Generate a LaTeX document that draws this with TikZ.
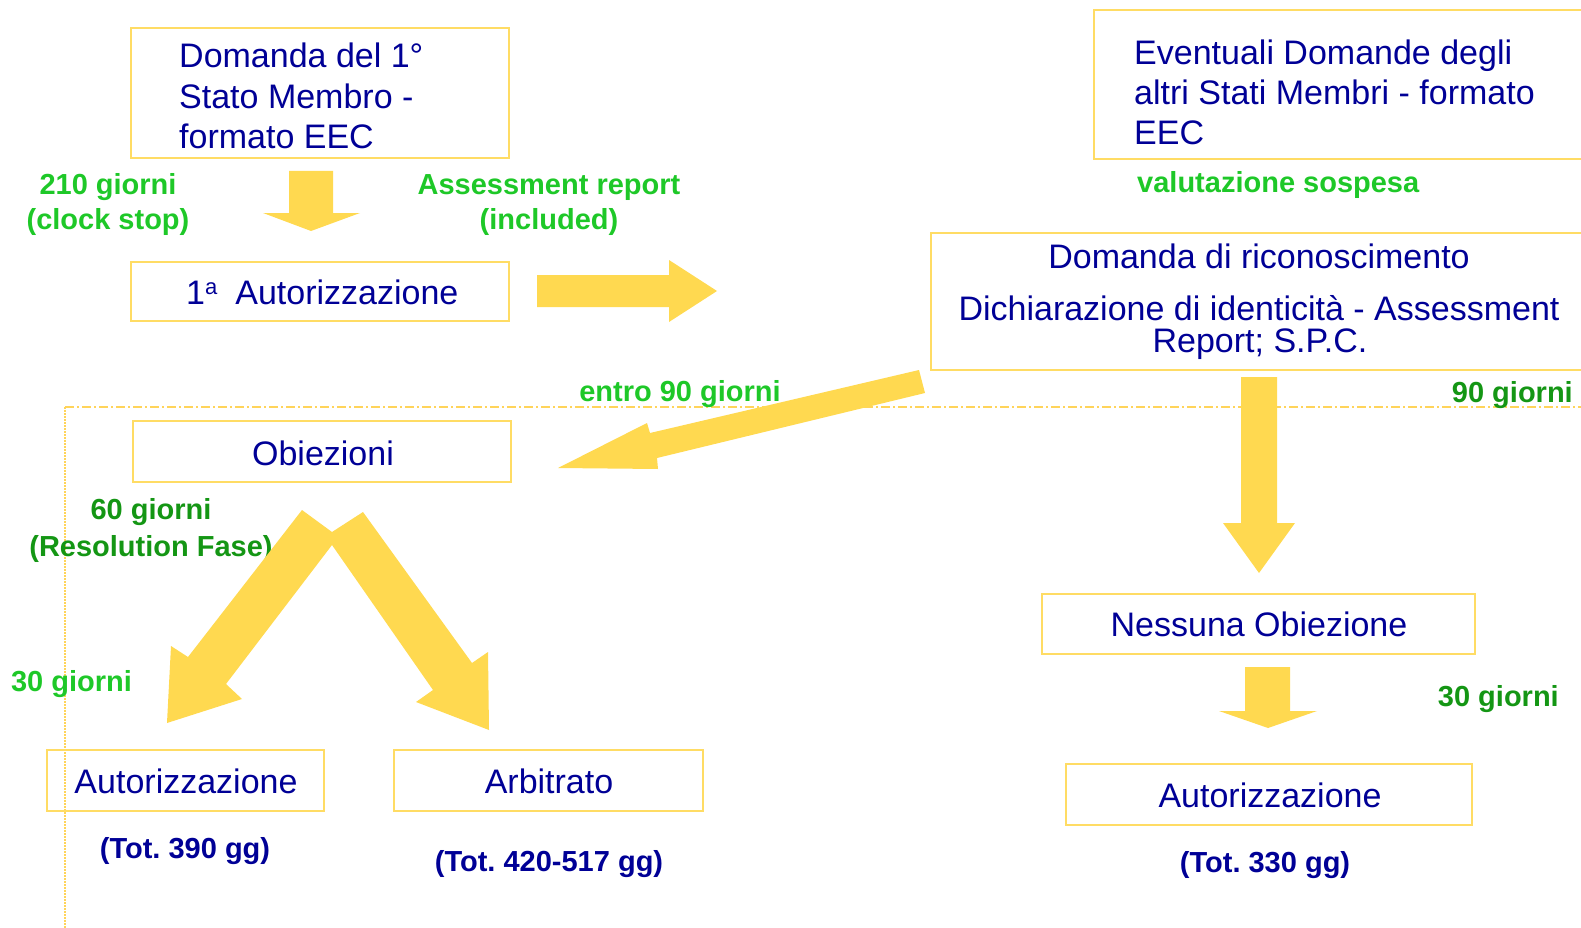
\documentclass[tikz,border=0pt]{standalone}
\usepackage{fontspec}
\setmainfont{Liberation Sans}
\definecolor{navy}{RGB}{0,0,150}
\definecolor{gbright}{RGB}{30,200,40}
\definecolor{gdark}{RGB}{20,150,20}
\definecolor{boxc}{RGB}{255,220,100}
\definecolor{arrc}{RGB}{255,217,80}
\definecolor{linec}{RGB}{255,212,90}
\begin{document}
\begin{tikzpicture}[x=1pt,y=-1pt,
  box/.style={draw=boxc, line width=2pt, inner sep=0pt, fill=none},
  big/.style={text=navy, font=\fontsize{34}{40}\selectfont, inner sep=0pt},
  lblb/.style={text=gbright, font=\bfseries\fontsize{29}{35}\selectfont, inner sep=0pt},
  lbld/.style={text=gdark, font=\bfseries\fontsize{29}{35}\selectfont, inner sep=0pt},
  tot/.style={text=navy, font=\bfseries\fontsize{29}{35}\selectfont, inner sep=0pt},
  arr/.style={fill=arrc, draw=none}]
\useasboundingbox (0,0) rectangle (1581,928);
\clip (0,0) rectangle (1581,928);

% guide lines
\draw[linec, line width=1.5pt, dash pattern=on 9pt off 3pt on 2pt off 3pt] (65,407) -- (1581,407);
\draw[linec, line width=1.5pt, dash pattern=on 1.5pt off 1.5pt] (65,407) -- (65,928);

% boxes
\node[box, minimum width=378pt, minimum height=130pt] (b1) at (320,93) {};
\node[box, minimum width=378pt, minimum height=59pt] (b2) at (320,291.5) {};
\node[box, minimum width=506pt, minimum height=149pt] (b3) at (1347,84.5) {};
\node[box, minimum width=669pt, minimum height=137pt] (b4) at (1265.5,301.5) {};
\node[box, minimum width=378pt, minimum height=61pt] (obi) at (322,451.5) {};
\node[box, minimum width=277pt, minimum height=61pt] (aut1) at (185.5,780.5) {};
\node[box, minimum width=309pt, minimum height=61pt] (arb) at (548.5,780.5) {};
\node[box, minimum width=433pt, minimum height=60pt] (ness) at (1258.5,624) {};
\node[box, minimum width=406pt, minimum height=61pt] (aut2) at (1269,794.5) {};

% box texts
\node[big, anchor=base west] (t1a) at (179,68) {Domanda del 1°};
\node[big, anchor=base west] (t1b) at (179,108.5) {Stato Membro -};
\node[big, anchor=base west] (t1c) at (179,149) {formato EEC};
\node[big, anchor=base west] (t2) at (186,304) {1\raisebox{10pt}{\fontsize{22}{22}\selectfont a}\hspace{18pt}Autorizzazione};
\node[big, anchor=base west] (t3a) at (1134,65) {Eventuali Domande degli};
\node[big, anchor=base west] (t3b) at (1134,105) {altri Stati Membri - formato};
\node[big, anchor=base west] (t3c) at (1134,145) {EEC};
\node[big, anchor=base] (t4a) at (1259,268) {Domanda di riconoscimento};
\node[big, anchor=base] (t4b) at (1259,320) {Dichiarazione di identicità - Assessment};
\node[big, anchor=base] (t4c) at (1260,352) {Report; S.P.C.};
\node[big, anchor=base] (tobi) at (323,465) {Obiezioni};
\node[big, anchor=base] (taut1) at (186,793) {Autorizzazione};
\node[big, anchor=base] (tarb) at (549,793) {Arbitrato};
\node[big, anchor=base] (tness) at (1259,636) {Nessuna Obiezione};
\node[big, anchor=base] (taut2) at (1270,807) {Autorizzazione};

% totals
\node[tot, anchor=base] (tot1) at (185,858) {(Tot.\ 390 gg)};
\node[tot, anchor=base] (tot2) at (549,871) {(Tot.\ 420-517 gg)};
\node[tot, anchor=base] (tot3) at (1265,872) {(Tot.\ 330 gg)};

% green labels
\node[lblb, anchor=base] (l1a) at (108,194) {210 giorni};
\node[lblb, anchor=base] (l1b) at (108,229) {(clock stop)};
\node[lblb, anchor=base] (l2a) at (549,194) {Assessment report};
\node[lblb, anchor=base] (l2b) at (549,229) {(included)};
\node[lblb, anchor=base west] (l3) at (1137,193) {valutazione sospesa};
\node[lbld, anchor=base] (l5a) at (151,519) {60 giorni};
\node[lbld, anchor=base] (l5b) at (151,556) {(Resolution Fase)};
\node[lblb, anchor=base] (l6) at (71.5,691.5) {30 giorni};
\node[lbld, anchor=base east] (l7) at (1573,402) {90 giorni};
\node[lbld, anchor=base east] (l8) at (1559,706) {30 giorni};

% block arrows
\fill[arr] (289,171) -- (333,171) -- (333,213) -- (360,213) -- (311,231) -- (263,213) -- (289,213) -- cycle;
\fill[arr] (537,275) -- (669,275) -- (669,260) -- (717,291) -- (669,322) -- (669,307) -- (537,307) -- cycle;
\fill[arr] (919,370) -- (925,393) -- (657,458) -- (658,469) -- (558,468) -- (647,423) -- (650,433) -- cycle;
\fill[arr] (1241,377) -- (1277,377) -- (1277,523) -- (1295,523) -- (1259,573) -- (1223,523) -- (1241,523) -- cycle;
\fill[arr] (1245,667) -- (1290,667) -- (1290,711) -- (1317,711) -- (1268,728) -- (1219,711) -- (1245,711) -- cycle;
\fill[arr] (302,510) -- (332,532) -- (363,512) -- (472,663) -- (488,652) -- (489,730) -- (416,702) -- (433,690) -- (332,545) -- (226,684) -- (242,699) -- (167,723) -- (171,646) -- (188,657) -- cycle;

\node[lblb, anchor=base] (l4) at (680,401) {entro 90 giorni};
\end{tikzpicture}
\end{document}
